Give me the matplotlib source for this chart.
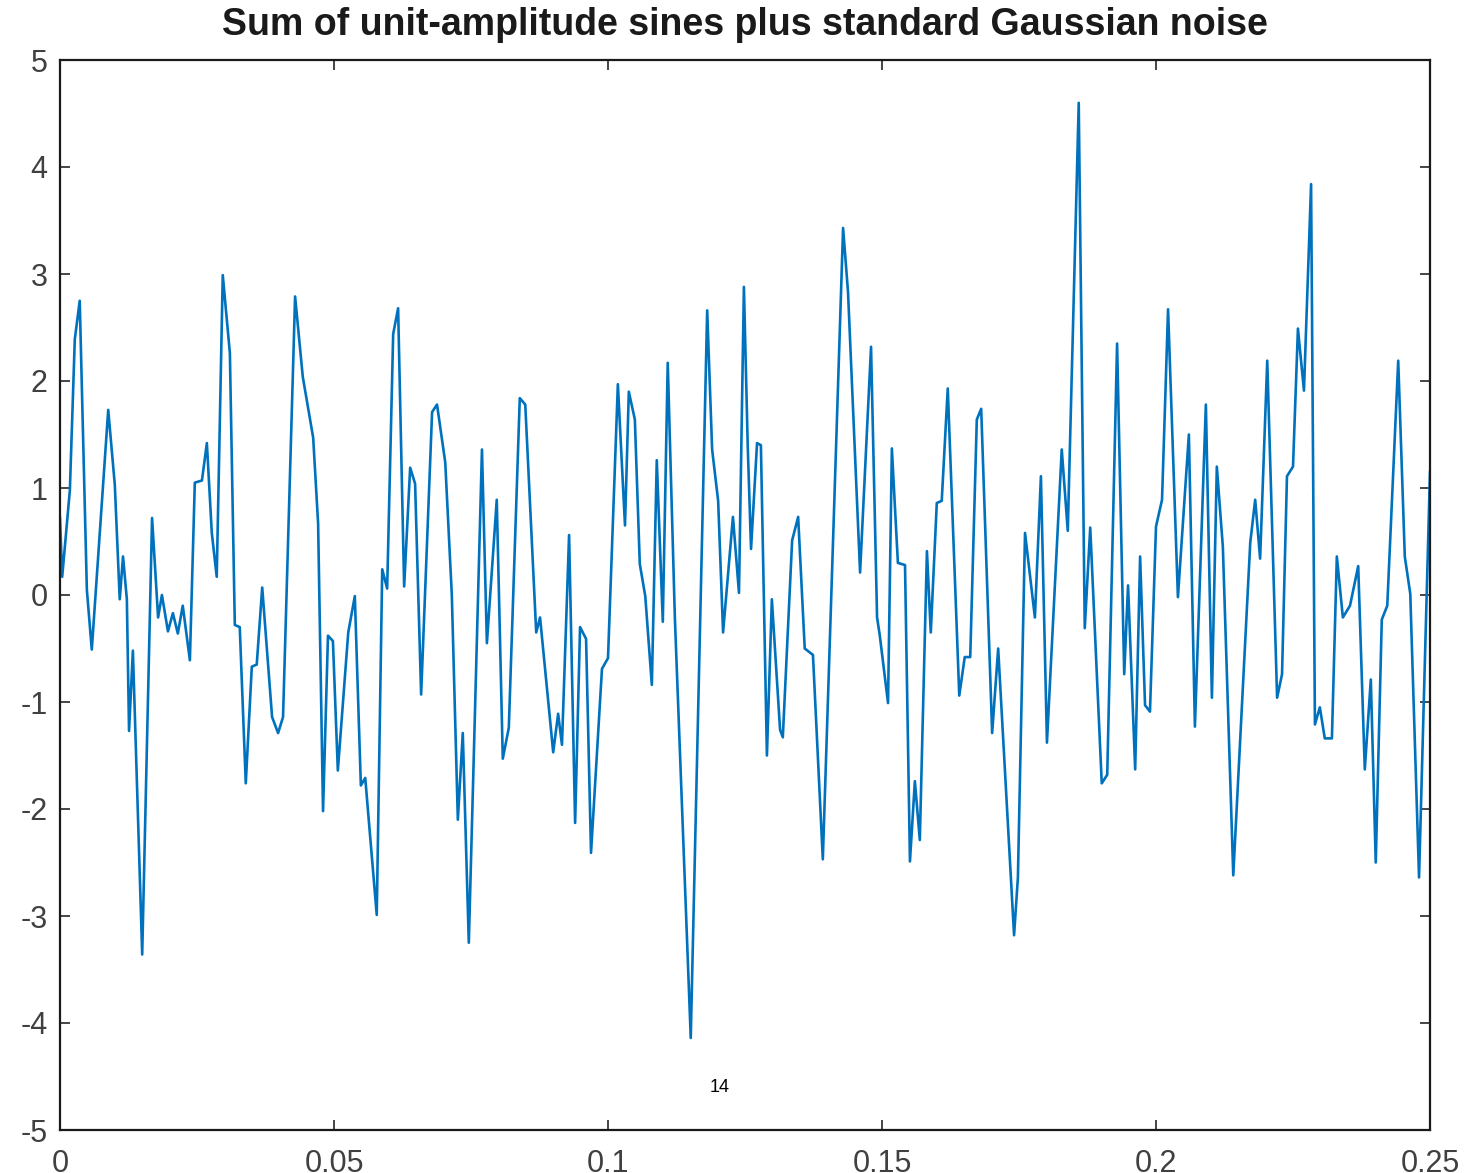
import matplotlib
matplotlib.use("Agg")
import matplotlib.pyplot as plt
import numpy as np

title = "Sum of unit-amplitude sines plus standard Gaussian noise"
xticks = [0, 0.05, 0.1, 0.15, 0.2, 0.25]
xtick_labels = ["0", "0.05", "0.1", "0.15", "0.2", "0.25"]
yticks = [-5, -4, -3, -2, -1, 0, 1, 2, 3, 4, 5]

# time in milliseconds of the traced vertices, and the signal values
t_ms = [0.0, 0.4, 1.8, 2.7, 3.6, 4.9, 5.8, 8.8, 10.0, 10.9, 11.5, 12.2, 12.6, 13.3, 15.0,
        16.8, 17.9, 18.6, 19.7, 20.6, 21.5, 22.4, 23.7, 24.6, 25.9, 26.8, 27.7, 28.6,
        29.7, 31.0, 31.9, 32.8, 33.9, 35.0, 35.9, 36.9, 38.7, 39.8, 40.7, 42.9, 44.3,
        46.2, 47.1, 48.0, 48.9, 49.8, 50.7, 52.6, 53.8, 54.9, 55.7, 57.8, 58.8, 59.7,
        60.8, 61.7, 62.8, 63.9, 64.8, 65.9, 67.9, 68.8, 70.3, 71.5, 72.6, 73.5, 74.6,
        77.0, 77.9, 79.7, 80.8, 81.9, 83.9, 84.9, 86.9, 87.6, 90.0, 90.9, 91.6, 92.9,
        94.0, 94.9, 96.0, 96.9, 98.9, 100.0, 101.8, 103.1, 103.8, 104.9, 105.8, 106.8,
        108.0, 108.9, 110.0, 110.9, 112.2, 115.1, 118.1, 119.0, 120.1, 121.0, 122.8,
        123.9, 124.8, 125.5, 126.1, 127.2, 127.9, 129.0, 129.9, 131.4, 131.9, 133.6,
        134.7, 135.9, 137.4, 139.2, 142.9, 143.8, 146.0, 148.0, 149.1, 149.6, 151.1,
        151.8, 152.9, 154.2, 155.1, 156.0, 156.9, 158.2, 158.9, 160.0, 160.9, 162.0,
        164.1, 165.1, 166.1, 167.3, 168.1, 170.1, 171.2, 174.1, 174.8, 176.1, 177.9,
        179.0, 180.1, 182.8, 183.9, 185.9, 187.0, 188.0, 190.1, 191.1, 192.9, 194.2,
        194.9, 196.2, 197.1, 198.0, 198.9, 200.0, 201.1, 202.2, 204.0, 206.0, 207.1,
        209.1, 210.2, 211.1, 212.2, 214.1, 217.2, 218.1, 219.0, 220.3, 222.1, 223.0,
        223.9, 225.0, 225.9, 227.0, 228.3, 229.0, 229.9, 230.8, 232.1, 233.0, 234.1,
        235.4, 236.9, 238.1, 239.2, 240.1, 241.2, 242.2, 244.2, 245.4, 246.4, 248.0,
        250.0]
signal = [0.72, 0.17, 0.98, 2.39, 2.75, 0.05, -0.51, 1.73, 1.03, -0.04, 0.36, -0.04, -1.27,
          -0.52, -3.36, 0.72, -0.21, 0.0, -0.34, -0.17, -0.36, -0.10, -0.61, 1.05, 1.07,
          1.42, 0.58, 0.17, 2.99, 2.26, -0.28, -0.30, -1.76, -0.67, -0.65, 0.07, -1.14,
          -1.29, -1.14, 2.79, 2.04, 1.47, 0.67, -2.02, -0.38, -0.43, -1.64, -0.35, -0.01,
          -1.78, -1.71, -2.99, 0.24, 0.06, 2.44, 2.68, 0.08, 1.19, 1.04, -0.93, 1.71,
          1.78, 1.24, 0.0, -2.10, -1.29, -3.25, 1.36, -0.45, 0.89, -1.53, -1.24, 1.84,
          1.78, -0.35, -0.21, -1.47, -1.11, -1.40, 0.56, -2.13, -0.30, -0.41, -2.41,
          -0.69, -0.59, 1.97, 0.65, 1.90, 1.64, 0.29, -0.01, -0.84, 1.26, -0.25, 2.17,
          -0.21, -4.14, 2.66, 1.36, 0.88, -0.35, 0.73, 0.02, 2.88, 1.39, 0.43, 1.42,
          1.40, -1.50, -0.04, -1.26, -1.33, 0.51, 0.73, -0.50, -0.56, -2.47, 3.43, 2.83,
          0.21, 2.32, -0.21, -0.38, -1.01, 1.37, 0.30, 0.28, -2.49, -1.74, -2.29, 0.41,
          -0.35, 0.86, 0.88, 1.93, -0.94, -0.58, -0.58, 1.64, 1.74, -1.29, -0.50, -3.18,
          -2.64, 0.58, -0.21, 1.11, -1.38, 1.36, 0.60, 4.60, -0.31, 0.63, -1.76, -1.68,
          2.35, -0.74, 0.09, -1.63, 0.36, -1.03, -1.09, 0.64, 0.89, 2.67, -0.02, 1.50,
          -1.23, 1.78, -0.96, 1.20, 0.45, -2.62, 0.49, 0.89, 0.34, 2.19, -0.96, -0.74,
          1.11, 1.20, 2.49, 1.91, 3.84, -1.21, -1.05, -1.34, -1.34, 0.36, -0.21, -0.10,
          0.27, -1.63, -0.79, -2.50, -0.23, -0.10, 2.19, 0.36, 0.01, -2.64, 1.15]

plt.rcParams['font.family'] = ['Liberation Sans', 'DejaVu Sans']
plt.rcParams['axes.unicode_minus'] = False

W, H = 1470, 1173
fig = plt.figure(figsize=(W / 100, H / 100), dpi=100)
ax = fig.add_axes([60 / W, 1 - 1130 / H, 1370 / W, 1070 / H])

t = np.array(t_ms) / 1000.0
ax.plot(t, signal, color='#0072BD', linewidth=1.9, solid_joinstyle='round')

ax.set_xlim(0, 0.25)
ax.set_ylim(-5, 5)
ax.set_xticks(xticks)
ax.set_xticklabels(xtick_labels)
ax.set_yticks(yticks)
ax.tick_params(direction='in', length=7, width=1.2, top=True, right=True,
               labelsize=22, colors='#262626', labelcolor='#404040')
ax.tick_params(axis='x', pad=14)
ax.tick_params(axis='y', pad=9)
for s in ax.spines.values():
    s.set_linewidth(1.6)
    s.set_color('#1a1a1a')

fig.text(745 / W, 1 - 25 / H, title, ha='center', va='center', fontsize=27,
         fontweight='bold', color='#1a1a1a')
fig.text(720 / W, 1 - 1088 / H, "14", ha='center', va='center', fontsize=13, color='black')

fig.savefig('out.png', dpi=100)
